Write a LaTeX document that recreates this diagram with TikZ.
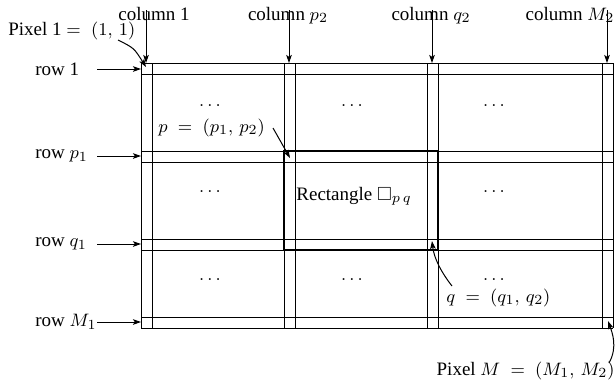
\documentclass[tikz,border=0pt]{standalone}
\usepackage{amssymb}
\usepackage[no-math]{fontspec}
\setmainfont{Liberation Serif}
\usetikzlibrary{arrows.meta}
\begin{document}
\begin{tikzpicture}[x=0.5pt,y=-0.5pt,
  grid/.style={line width=0.5pt},
  rectline/.style={line width=1.1pt},
  lab/.style={inner sep=0pt,font=\fontsize{9.5}{11}\selectfont},
  arr/.style={line width=0.5pt,-{Stealth[length=4pt,width=2.8pt,inset=0.9pt]}}]
\useasboundingbox (0,0) rectangle (615,381);
% grid
\foreach \y in {63,74,151,162,239,250,317,328}
  \draw[grid] (141,\y) -- (613,\y);
\foreach \x in {141,152,284,295,427,438,602,613}
  \draw[grid] (\x,63) -- (\x,328);
% rectangle
\draw[rectline] (284,151) rectangle (438,250);
% target coordinates
\coordinate (r1) at (141,69);
\coordinate (rp) at (141,156);
\coordinate (rq) at (141,244);
\coordinate (rM) at (141,322);
\coordinate (c1) at (146,63);
\coordinate (cp) at (289,63);
\coordinate (cq) at (432,63);
\coordinate (cM) at (607,63);
\coordinate (px1) at (146,67);
\coordinate (pp) at (290,158);
\coordinate (pq) at (432,241);
\coordinate (pM) at (608,321);
% row labels
\node[lab,anchor=west] (row1) at (35,69) {row 1};
\node[lab,anchor=west] (rowp) at (35,156) {row $p_1$};
\node[lab,anchor=west] (rowq) at (35,244) {row $q_1$};
\node[lab,anchor=west] (rowM) at (35,322) {row $M_1$};
\coordinate (s1) at (97,69);
\coordinate (sp) at (97,156);
\coordinate (sq) at (97,244);
\coordinate (sM) at (97,322);
\draw[arr] (s1) -- (r1);
\draw[arr] (sp) -- (rp);
\draw[arr] (sq) -- (rq);
\draw[arr] (sM) -- (rM);
% column labels
\node[lab,anchor=base] (col1) at (154,20) {column 1};
\node[lab,anchor=base] (colp) at (288,20) {column $p_2$};
\node[lab,anchor=base] (colq) at (431,20) {column $q_2$};
\node[lab,anchor=base] (colM) at (570,20) {column $M_2$};
\coordinate (t1) at (146,10);
\coordinate (tp) at (289,10);
\coordinate (tq) at (432,10);
\coordinate (tM) at (607,10);
\draw[arr] (t1) -- (c1);
\draw[arr] (tp) -- (cp);
\draw[arr] (tq) -- (cq);
\draw[arr] (tM) -- (cM);
% pixel labels
\node[lab,anchor=base west] (pix1) at (8,35) {Pixel 1 $=\;(1,\,1)$};
\coordinate (a1) at (118,40);
\draw[arr] (a1) .. controls (134,48) .. (px1);
\node[lab,anchor=base west] (plab) at (158,132) {$p\;=\;(p_1,\,p_2)$};
\coordinate (ap) at (273,128);
\draw[arr] (ap) -- (pp);
\node[lab,anchor=base west] (qlab) at (446,302) {$q\;=\;(q_1,\,q_2)$};
\coordinate (aq) at (452,286);
\draw[arr] (aq) .. controls (441,272) and (434,258) .. (pq);
\node[lab,anchor=base east] (pixM) at (615,375) {Pixel $M\;=\;(M_1,\,M_2)$};
\coordinate (aM) at (609,363);
\draw[arr] (aM) .. controls (618,347) and (612,332) .. (pM);
\node[lab,anchor=base west] (rlab) at (296,200) {Rectangle $\square_{p\,q}$};
% dots
\foreach \x/\y in {210/106,352/106,494/106,210/192,494/192,210/280,352/280,494/280}
  \node[lab,anchor=base] at (\x,\y) {$\ldots$};
\end{tikzpicture}
\end{document}
